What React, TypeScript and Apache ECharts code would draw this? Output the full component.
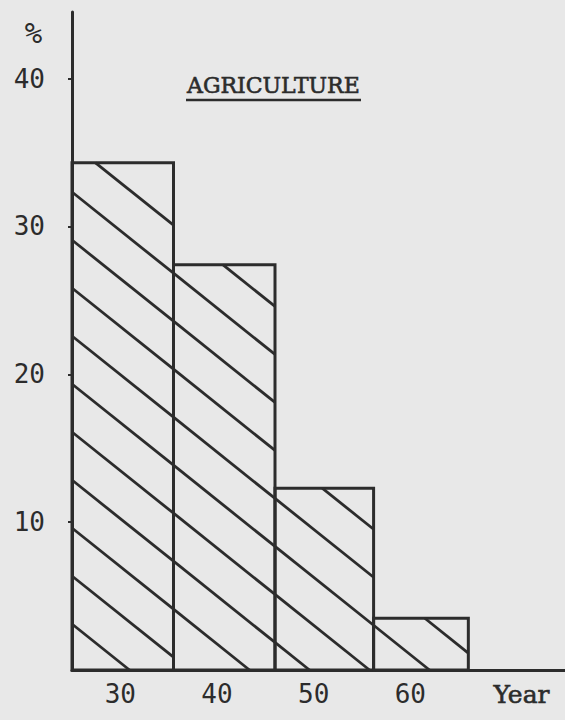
import React, { useEffect, useRef } from 'react';
import * as echarts from 'echarts';

// ---- data ----
const binStarts = [25, 35.5, 46, 56.2];
const binEnds = [35.5, 46, 56.2, 66];
const agricultureShare = [34.3, 27.4, 12.3, 3.5];
const xTickValues = [30, 40, 50, 60];
const xNameValue = 71.5;
const yTickValues = [10, 20, 30, 40];
const titleText = 'AGRICULTURE';
const unitText = '%';
const xAxisTitle = 'Year';

// ---- styles ----
const X_MIN = 25;
const X_MAX = 76;
const Y_MAX = 44.5;
const INK = '#2c2c2c';
const BG = '#e8e8e8';
const HATCH_SLOPE = 0.8;
const HATCH_GAP = 48;
const HATCH_OFFSET = 46;
const HATCH_MIN_LEN = 30;

export default function App() {
  const ref = useRef<HTMLDivElement | null>(null);

  useEffect(() => {
    document.body.style.margin = '0';
    document.body.style.background = BG;
    if (!ref.current) return;
    const chart = echarts.init(ref.current, undefined, { renderer: 'svg' });

    const renderItem = (params: any, api: any) => {
      const start = api.value(0);
      const end = api.value(1);
      const v = api.value(2);
      const bl = api.coord([start, 0]);
      const tr = api.coord([end, v]);
      const origin = api.coord([X_MIN, 0]);
      const x0 = bl[0], y0 = bl[1], x1 = tr[0], y1 = tr[1];
      const s = HATCH_SLOPE;
      const children: any[] = [];
      for (let m = 0; m < 40; m++) {
        const b = origin[1] - HATCH_OFFSET - HATCH_GAP * m - s * origin[0];
        const xa = Math.max(x0, (y1 - b) / s);
        const xb = Math.min(x1, (y0 - b) / s);
        if (xb <= xa) continue;
        const len = (xb - xa) * Math.sqrt(1 + s * s);
        if (len < HATCH_MIN_LEN) continue;
        children.push({
          type: 'line',
          shape: { x1: xa, y1: b + s * xa, x2: xb, y2: b + s * xb },
          style: { stroke: INK, lineWidth: 2.8 },
        });
      }
      children.push({
        type: 'rect',
        shape: { x: x0, y: y1, width: x1 - x0, height: y0 - y1 },
        style: { fill: 'transparent', stroke: INK, lineWidth: 3 },
      });
      return { type: 'group', children };
    };

    const option: any = {
      animation: false,
      backgroundColor: BG,
      grid: { left: 72, right: 0, top: 12, bottom: 50 },
      xAxis: {
        type: 'value',
        min: X_MIN,
        max: X_MAX,
        axisLine: { show: true, onZero: false, lineStyle: { color: INK, width: 3 } },
        axisTick: { show: false },
        splitLine: { show: false },
        axisLabel: {
          customValues: [...xTickValues, xNameValue],
          formatter: (v: number) => {
            if (Math.abs(v - xNameValue) < 1e-6) return '{y|' + xAxisTitle + '}';
            return xTickValues.indexOf(v) >= 0 ? String(v) : '';
          },
          margin: 24,
          verticalAlign: 'middle',
          fontFamily: 'DejaVu Sans Mono',
          fontSize: 26,
          color: INK,
          rich: {
            y: {
              fontFamily: 'DejaVu Serif',
              fontSize: 25,
              color: INK,
              textBorderColor: INK,
              textBorderWidth: 0.6,
            },
          },
        },
      },
      yAxis: {
        type: 'value',
        min: 0,
        max: Y_MAX,
        axisLine: { show: true, onZero: false, lineStyle: { color: INK, width: 3 } },
        axisTick: {
          show: true,
          customValues: yTickValues,
          length: 4,
          lineStyle: { color: INK, width: 2 },
        },
        splitLine: { show: false },
        axisLabel: {
          customValues: yTickValues,
          formatter: (v: number) => (yTickValues.indexOf(v) >= 0 ? String(v) : ''),
          margin: 27,
          fontFamily: 'DejaVu Sans Mono',
          fontSize: 26,
          color: INK,
        },
      },
      graphic: [
        {
          type: 'text',
          x: 187,
          y: 85.5,
          style: {
            text: titleText,
            fontFamily: 'DejaVu Serif',
            fontSize: 22,
            fill: INK,
            stroke: INK,
            lineWidth: 0.6,
            align: 'left',
            verticalAlign: 'middle',
          },
        },
        {
          type: 'line',
          shape: { x1: 186, y1: 100, x2: 361, y2: 100 },
          style: { stroke: INK, lineWidth: 2.5 },
        },
        {
          type: 'text',
          x: 33.5,
          y: 32.5,
          style: {
            text: unitText,
            fontFamily: 'DejaVu Sans Mono',
            fontSize: 29,
            fill: INK,
            align: 'center',
            verticalAlign: 'middle',
          },
        },
      ],
      series: [
        {
          type: 'custom',
          renderItem,
          encode: { x: [0, 1], y: 2 },
          data: binStarts.map((s, i) => [s, binEnds[i], agricultureShare[i]]),
          clip: false,
        },
      ],
    };

    chart.setOption(option);
    return () => {
      chart.dispose();
    };
  }, []);

  return <div ref={ref} style={{ width: 565, height: 720 }} />;
}
